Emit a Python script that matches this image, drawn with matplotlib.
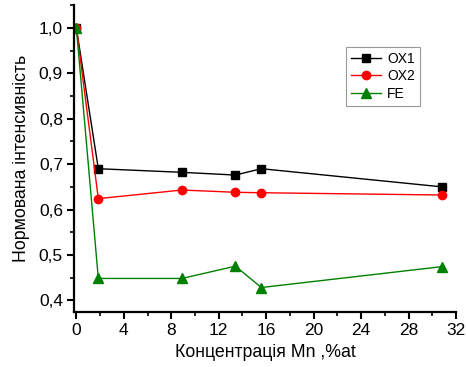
import matplotlib
matplotlib.use("Agg")
import matplotlib.pyplot as plt
from matplotlib.ticker import MultipleLocator, FuncFormatter

plt.rcParams['font.family'] = ['Liberation Sans', 'DejaVu Sans']

mn = [0, 1.85, 8.9, 13.4, 15.6, 30.8]
ox1 = [1.0, 0.690, 0.682, 0.676, 0.690, 0.650]
ox2 = [1.0, 0.624, 0.643, 0.638, 0.637, 0.632]
fe = [1.0, 0.448, 0.448, 0.475, 0.428, 0.474]

xticks = [0, 4, 8, 12, 16, 20, 24, 28, 32]
yticks = [0.4, 0.5, 0.6, 0.7, 0.8, 0.9, 1.0]

fig = plt.figure(figsize=(4.66, 3.67), dpi=100)
ax = fig.add_axes([74/466, 1 - 312/367, (456-74)/466, (312-5)/367])

ax.plot(mn, ox1, '-s', color='black', ms=5.5, lw=1, label='OX1')
ax.plot(mn, ox2, '-o', color='red', ms=6, lw=1, label='OX2')
ax.plot(mn, fe, '-^', color='green', ms=7.5, lw=1, label='FE')

ax.set_xlim(-0.2, 32)
ax.set_ylim(0.374, 1.051)
ax.set_xticks(xticks)
ax.set_yticks(yticks)
ax.xaxis.set_minor_locator(MultipleLocator(2))
ax.yaxis.set_minor_locator(MultipleLocator(0.05))
ax.yaxis.set_major_formatter(FuncFormatter(lambda v, p: f"{v:.1f}".replace('.', ',')))
ax.spines['top'].set_visible(False)
ax.spines['right'].set_visible(False)
for s in ['left', 'bottom']:
    ax.spines[s].set_linewidth(1.6)
ax.tick_params(which='major', direction='out', length=5, width=1.5, labelsize=12.5, pad=3)
ax.tick_params(which='minor', direction='out', length=3, width=1.2)

ax.set_xlabel('Концентрація Mn ,%at', fontsize=12.8, labelpad=4)
ax.set_ylabel('Нормована інтенсивність', fontsize=12.8, labelpad=6)

leg = ax.legend(loc='upper left', bbox_to_anchor=((346-74)/382, 1 - (47-5)/307),
                fontsize=10, frameon=True, fancybox=False, edgecolor='gray',
                handlelength=2.2, borderpad=0.35, labelspacing=0.25, handletextpad=0.4,
                borderaxespad=0)
leg.get_frame().set_linewidth(0.8)

fig.savefig('out.png', dpi=100)
